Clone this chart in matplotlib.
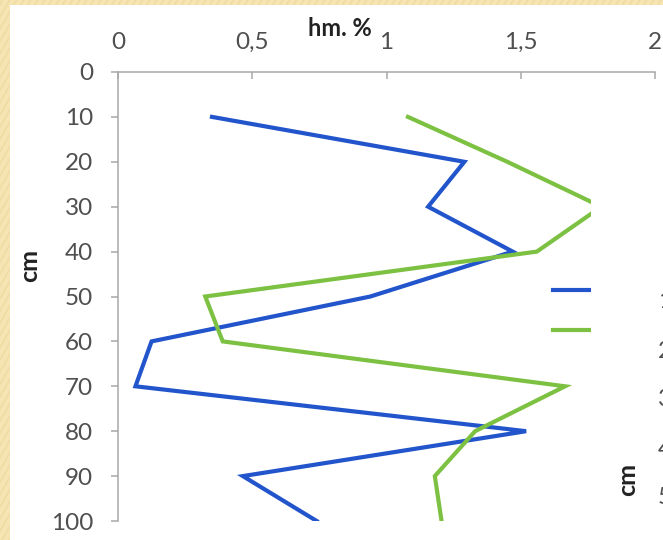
import numpy as np
import matplotlib
matplotlib.use("Agg")
import matplotlib.pyplot as plt
from matplotlib.patches import Rectangle

# Soil profile: humus content (%) against depth (cm)
depth_cm = [10, 20, 30, 40, 50, 60, 70, 80, 90, 100]
humus_profile_1 = [0.35, 1.29, 1.155, 1.47, 0.94, 0.125, 0.065, 1.52, 0.465, 0.74]
humus_profile_2 = [1.08, 1.45, 1.80, 1.56, 0.325, 0.39, 1.665, 1.33, 1.18, 1.205]

x_ticks = [0, 0.5, 1, 1.5, 2]
x_tick_labels = ["0", "0,5", "1", "1,5", "2"]
y_ticks = [0, 10, 20, 30, 40, 50, 60, 70, 80, 90, 100]
side_tick_labels = ["10", "20", "30", "40", "50"]

W, H = 663, 540
BLUE = "#2255CC"
GREEN = "#7DC142"
SPINE = "#A8A8A8"
TICK_TXT = "#4F4F4F"
LABEL_TXT = "#222222"
FONT = "Lato"

fig = plt.figure(figsize=(W / 100, H / 100), dpi=100)
fig.patch.set_facecolor("#F6E5B2")

# textured slide background with diagonal strokes
bg = fig.add_axes([0, 0, 1, 1], zorder=-10)
bg.set_xlim(0, W)
bg.set_ylim(H, 0)
bg.axis("off")
for x0 in np.arange(-600, W + 40, 7):
    bg.plot([x0, x0 + 320], [H, H - 560], color="#ECD598", lw=1.2, alpha=0.6)
bg.add_patch(Rectangle((10, 5), W, H, facecolor="white", edgecolor="none", zorder=5))

# main chart
ax = fig.add_axes([118 / W, 1 - 521 / H, 537 / W, 449 / H])
ax.set_facecolor("none")
l1, = ax.plot(humus_profile_1, depth_cm, color=BLUE, lw=3.0, solid_joinstyle="miter")
l2, = ax.plot(humus_profile_2, depth_cm, color=GREEN, lw=3.0, solid_joinstyle="miter")
ax.set_xlim(0, 2)
ax.set_ylim(100, 0)
ax.xaxis.tick_top()
ax.set_xticks(x_ticks)
ax.set_xticklabels(x_tick_labels)
ax.set_yticks(y_ticks)
for s in ["bottom", "right"]:
    ax.spines[s].set_visible(False)
for s in ["top", "left"]:
    ax.spines[s].set_color(SPINE)
    ax.spines[s].set_linewidth(1.1)
    ax.spines[s].set_clip_on(False)
ax.tick_params(axis="x", direction="in", length=5, width=1.1, color=SPINE,
               labelsize=17.5, labelcolor=TICK_TXT, pad=14)
ax.tick_params(axis="y", direction="out", length=5, width=1.1, color=SPINE,
               labelsize=17.5, labelcolor=TICK_TXT, pad=13)
for t in ax.get_xticklabels() + ax.get_yticklabels():
    t.set_fontfamily(FONT)

fig.text(340 / W, 1 - 28 / H, "hm. %", ha="center", va="center", fontsize=17,
         fontweight="bold", color=LABEL_TXT, family=FONT)
fig.text(30 / W, 1 - 266 / H, "cm", ha="center", va="center", rotation=90,
         fontsize=18, fontweight="bold", color=LABEL_TXT, family=FONT)

# legend keys; their names sit under the neighbouring panel
leg = ax.legend(handles=[l1, l2], labels=["", ""], loc="center left",
                bbox_to_anchor=(553 / W, 1 - 311.5 / H),
                bbox_transform=fig.transFigure, frameon=False, borderpad=0,
                borderaxespad=0, handlelength=2.6, labelspacing=0.89,
                handletextpad=0, prop={"family": FONT, "size": 16})

# neighbouring chart panel on the right
side = fig.add_axes([591 / W, 0, 1 - 591 / W, 1 - 80 / H], zorder=20)
side.set_facecolor("white")
side.set_xlim(591, W)
side.set_ylim(H, 80)
for s in side.spines.values():
    s.set_visible(False)
side.set_xticks([])
side.set_yticks([])
side.text(628, 479, "cm", ha="center", va="center", rotation=90, fontsize=18,
          fontweight="bold", color=LABEL_TXT, family=FONT)
for i, lab in enumerate(side_tick_labels):
    side.text(658, 302 + 49 * i, lab, ha="left", va="center", fontsize=17,
              color=TICK_TXT, family=FONT, clip_on=False)

fig.savefig("out.png", dpi=100)
